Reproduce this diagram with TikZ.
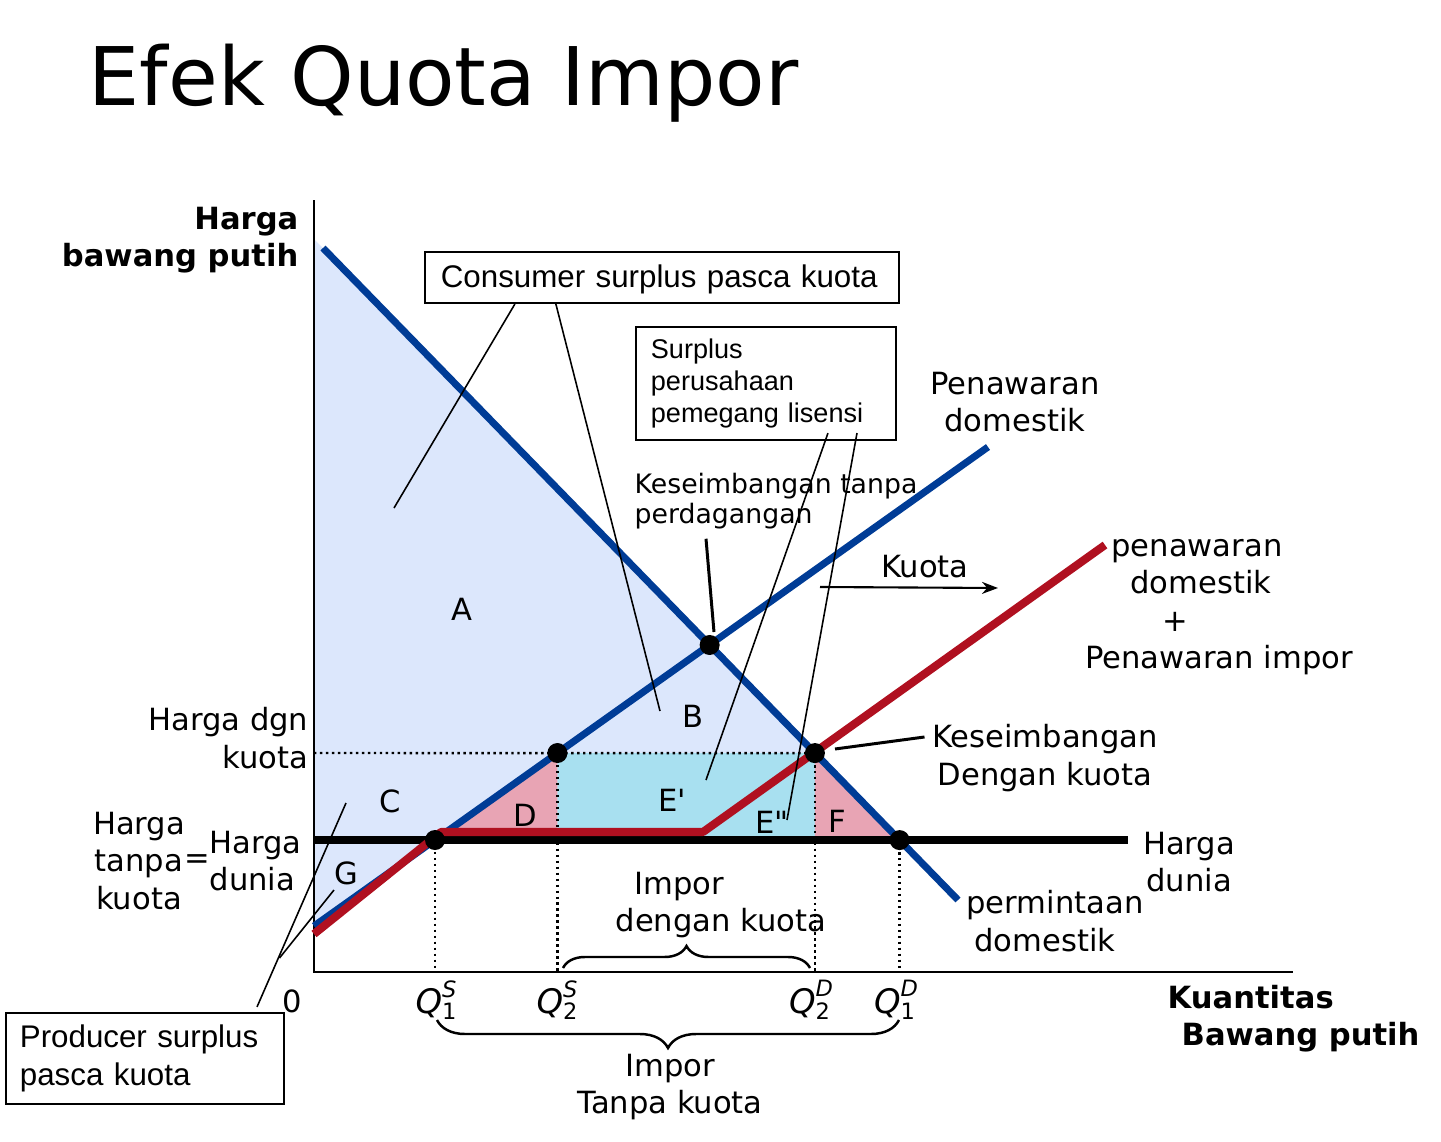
\documentclass[tikz,border=0pt]{standalone}
\usepackage{fontspec}
\setmainfont{DejaVu Sans}
\newfontfamily\boxfont{Liberation Sans}
\newfontfamily\rawfont{DejaVu Sans}[Ligatures=TeXOff]
\usetikzlibrary{positioning,arrows.meta,decorations.pathreplacing}
\definecolor{surplusfill}{RGB}{220,231,252}
\definecolor{licfill}{RGB}{168,224,240}
\definecolor{lossfill}{RGB}{232,164,180}
\definecolor{supplyblue}{RGB}{0,60,150}
\definecolor{quotared}{RGB}{176,16,32}
\newcommand{\lblsize}{\fontsize{8.7}{10.6}\selectfont}
\newcommand{\smallsize}{\fontsize{7.6}{8.6}\selectfont}
\newcommand{\qlbl}[2]{$\mbox{\fontsize{9.6}{11}\selectfont\itshape Q}^{\mbox{\fontsize{6.4}{7}\selectfont\itshape #2}}_{\mbox{\fontsize{6.4}{7}\selectfont #1}}$}

\begin{document}
\begin{tikzpicture}[x=0.01cm, y=-0.01cm, >={Stealth[length=0.16cm,width=0.12cm]},
  curve/.style={line width=2pt, color=supplyblue},
  worldline/.style={line width=2.3pt, color=black},
  quotaline/.style={line width=2.3pt, color=quotared, line join=round},
  dot/.style={circle, fill=black, inner sep=0pt, minimum size=0.2cm},
  guide/.style={densely dotted, line width=0.7pt},
  leader/.style={line width=0.45pt},
  infobox/.style={draw, line width=0.6pt, align=left, inner ysep=0pt}]
  \tikzstyle{every node}=[font=\lblsize, inner sep=0pt]

  \useasboundingbox (0,0) rectangle (1441,1142);

  % lines of the model
  \coordinate (o) at (314,972);
  \coordinate (d1) at (323,248);
  \coordinate (d2) at (958,900);
  \coordinate (s1) at (314,926);
  \coordinate (s2) at (988,447);
  \coordinate (w1) at (314,840);
  \coordinate (w2) at (1128,840);
  \coordinate (p1) at (314,753);
  \coordinate (p2) at (1128,753);
  \coordinate (e0) at (intersection of d1--d2 and s1--s2);
  \coordinate (q1s) at (intersection of s1--s2 and w1--w2);
  \coordinate (q1d) at (intersection of d1--d2 and w1--w2);
  \coordinate (q2s) at (intersection of s1--s2 and p1--p2);
  \coordinate (q2d) at (intersection of d1--d2 and p1--p2);
  \coordinate (r1) at (314,934);
  \coordinate (r2) at (441,832);
  \coordinate (r3) at (703,832);
  \coordinate (r4) at (1105,545);

  % areas
  \fill[surplusfill] (314,239) -- (q1d) -- (q1s) -- (s1) -- cycle;
  \fill[licfill] (q2s) -- (q2d) -- (q2d |- w1) -- (q2s |- w1) -- cycle;
  \fill[lossfill] (q1s) -- (q2s) -- (q2s |- w1) -- cycle;
  \fill[lossfill] (q2d) -- (q1d) -- (q2d |- w1) -- cycle;

  % guides
  \draw[guide] (p1) -- (q2d);
  \draw[guide] (q1s) -- (q1s |- o);
  \draw[guide] (q2s) -- (q2s |- o);
  \draw[guide] (q2d) -- (q2d |- o);
  \draw[guide] (q1d) -- (q1d |- o);

  % axes
  \draw[line width=0.8pt] (314,200) -- (o) -- (1293,972);

  \draw[curve] (d1) -- (d2);
  \draw[curve] (s1) -- (s2);
  \draw[worldline] (w1) -- (w2);
  \draw[quotaline] (r1) -- (r2) -- (r3) -- (r4);

  \node[dot] (dote0) at (e0) {};
  \node[dot] (dotq1s) at (q1s) {};
  \node[dot] (dotq2s) at (q2s) {};
  \node[dot] (dotq2d) at (q2d) {};
  \node[dot] (dotq1d) at (q1d) {};

  % braces
  \draw[line width=0.7pt, decorate, decoration={brace, amplitude=0.22cm}] (563,968) -- (810,968);
  \draw[line width=0.7pt, decorate, decoration={brace, amplitude=0.28cm}] (899,1020) -- (437,1020);

  % texts
  \node[anchor=base west, font=\fontsize{23}{26}\selectfont] (title) at (88,105) {Efek Quota Impor};
  \node[anchor=east, align=right, font=\lblsize\bfseries] (ylab) at (299,240) {Harga\\bawang putih};
  \node[anchor=west, align=left, font=\lblsize\bfseries] (xlab) at (1167,1019) {Kuantitas\\\hspace*{0.14cm}Bawang putih};
  \node (zero) at (292,1001) {0};

  \node[infobox, font=\boxfont\fontsize{8.9}{10.8}\selectfont, inner xsep=0.16cm, text width=4.42cm, text height=0.24cm, text depth=0.04cm, minimum height=0.51cm] (cs) at (662,277.5) {Consumer surplus pasca kuota};
  \node[infobox, font=\boxfont\fontsize{7.7}{9.2}\selectfont, inner xsep=0.15cm, text width=2.30cm, minimum height=1.13cm] (lic) at (766,383.5) {Surplus\\perusahaan\\pemegang lisensi};
  \node[infobox, font=\boxfont\fontsize{8.9}{10.8}\selectfont, inner xsep=0.14cm, text width=2.50cm, minimum height=0.91cm] (ps) at (145,1058.5) {Producer surplus\\pasca kuota};

  \node[align=center] (dsup) at (1015,402) {Penawaran\\domestik};
  \node[anchor=west, align=left, font=\smallsize] (noteq) at (634,501) {Keseimbangan tanpa\\perdagangan};
  \node (kuota) at (925,567) {Kuota};
  \node[align=center] (tsup) at (1219,607) {\mbox{penawaran\hspace{0.44cm}}\\\mbox{domestik\hspace{0.36cm}}\\\mbox{+\hspace{0.88cm}}\\Penawaran impor};
  \node[align=center] (qeq) at (1045,758) {Keseimbangan\\Dengan kuota};
  \node[align=center] (wright) at (1189,862) {Harga\\dunia};
  \node[align=center] (dem) at (1055,921) {permintaan\\\hspace*{-0.2cm}domestik};
  \node[anchor=east, align=right] (pq) at (309,738) {Harga dgn\\kuota};
  \node[align=center] (pnq) at (139,861) {Harga\\tanpa\\kuota};
  \node (eqsign) at (197,862) {=};
  \node[anchor=west, align=left] (wleft) at (209,861) {Harga\\dunia};
  \node[anchor=west, align=left] (impq) at (615,905) {\hspace*{0.19cm}Impor\\dengan kuota};
  \node[align=center] (impnq) at (670,1087) {Impor\\Tanpa kuota};

  \node (A) at (462,609) {A};
  \node (B) at (693,716) {B};
  \node (C) at (390,801) {C};
  \node (D) at (525,815) {D};
  \node[font=\lblsize\rawfont] (E1) at (672,800) {E'};
  \node[font=\lblsize\rawfont] (E2) at (772,822) {E"};
  \node (F) at (837,821) {F};
  \node (G) at (346,873) {G};

  \node (lq1s) at (437,1000) {\qlbl{1}{S}};
  \node (lq2s) at (558,1000) {\qlbl{2}{S}};
  \node (lq2d) at (812,1000) {\qlbl{2}{D}};
  \node (lq1d) at (897,1000) {\qlbl{1}{D}};

  % leaders
  \coordinate (csA) at (394,508);
  \coordinate (csB) at (660,711);
  \coordinate (licE1) at (706,780);
  \coordinate (licE2) at (787,820);
  \coordinate (psC) at (346,803);
  \coordinate (psfork) at (279.5,958);
  \coordinate (psG) at (334,890);
  \coordinate (e0tip) at (714,632);
  \coordinate (qeqtip) at (835,749);
  \coordinate (kuotastart) at (820,587);
  \coordinate (kuotaend) at (998,588);

  \draw[leader] ([xshift=0.91cm]cs.south west) -- (csA);
  \draw[leader] ([xshift=1.32cm]cs.south west) -- (csB);
  \draw[leader] ([xshift=1.93cm,yshift=0.08cm]lic.south west) -- (licE1);
  \draw[leader] ([xshift=2.22cm,yshift=0.08cm]lic.south west) -- (licE2);
  \draw[leader] ([xshift=2.52cm,yshift=0.05cm]ps.north west) -- (psC);
  \draw[leader] (psfork) -- (psG);
  \draw[line width=0.85pt] ([yshift=-0.09cm]noteq.south west -| 706,0) -- (e0tip);
  \draw[line width=0.85pt] (qeqtip) -- ([xshift=-0.07cm,yshift=0.21cm]qeq.west);
  \draw[->, line width=0.6pt] (kuotastart) -- (kuotaend);
\end{tikzpicture}
\end{document}
